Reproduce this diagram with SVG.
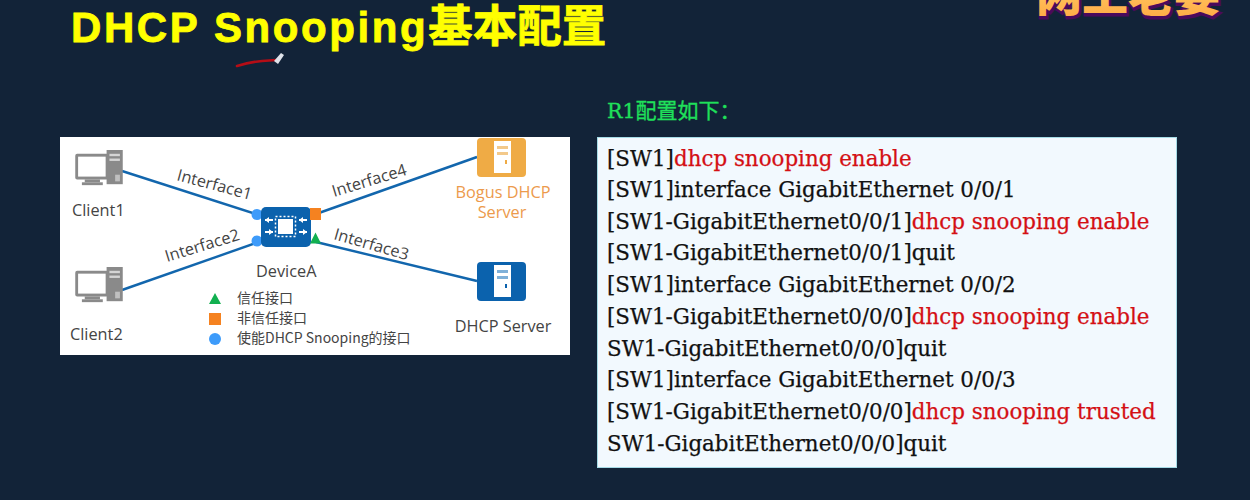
<svg xmlns="http://www.w3.org/2000/svg" width="1250" height="500" viewBox="0 0 1250 500">
<defs>
<linearGradient id="wm" x1="0" y1="0" x2="0" y2="1"><stop offset="0" stop-color="#ffe07a"/><stop offset="1" stop-color="#ffa640"/></linearGradient>
<symbol id="pc" viewBox="0 0 50 40" overflow="visible">
<rect x="33" y="0" width="17" height="36" fill="#8a8a8a"/>
<rect x="36" y="4" width="11" height="2.5" fill="#d5d5d5"/><rect x="36" y="9" width="11" height="2.5" fill="#d5d5d5"/>
<rect x="42" y="26" width="5" height="7" fill="#c0c0c0"/>
<rect x="0" y="4" width="35" height="27" rx="2" fill="#8a8a8a"/>
<rect x="3" y="7" width="29" height="21" fill="#fff"/>
<rect x="10" y="31" width="16" height="3" fill="#8a8a8a"/>
<rect x="7" y="34" width="22" height="3" fill="#8a8a8a"/>
</symbol>
</defs>
<style>
.cfg{font-family:"DejaVu Serif","Liberation Serif",serif;font-size:21.4px;fill:#111;stroke:#111;stroke-width:.25}
.cfg .r{fill:#d40f14;stroke:#d40f14}
.lab{font-family:"Open Sans","Noto Sans","Noto Sans CJK SC",sans-serif;font-size:16.3px;fill:#444}
.leg{font-family:"Noto Sans CJK SC","Noto Sans",sans-serif;font-size:14px;fill:#444}
.link{stroke:#1266ad;stroke-width:2.4;fill:none}
</style>
<rect width="1250" height="500" fill="#122338"/>
<g id="title">
<text x="71" y="42" font-family="Liberation Sans, Noto Sans CJK SC, sans-serif" font-size="42" font-weight="700" fill="#ffff00" stroke="#ffff00" stroke-width="0.8" letter-spacing="2.6">DHCP Snooping<tspan font-family="Noto Sans CJK SC, sans-serif" font-size="44.500" letter-spacing="0">基本配置</tspan></text>
</g>
<g id="watermark">
<text x="1037" y="13" font-family="Noto Sans CJK SC, sans-serif" font-size="46" font-weight="900" fill="#4a0a5c" stroke="#4a0a5c" stroke-width="3">网工老姜</text>
<text x="1036" y="11" font-family="Noto Sans CJK SC, sans-serif" font-size="46" font-weight="900" fill="url(#wm)">网工老姜</text>
</g>
<path id="pen-stroke" d="M237 66 Q250 62 262 61 L276 60" stroke="#b50d16" stroke-width="2.6" fill="none" stroke-linecap="round"/>
<path id="pen-tip" d="M274 61 L281 53 L284 55 L278 64 Z" fill="#dfe3ea"/>
<text id="subhead" x="607" y="118" font-family="DejaVu Serif, Noto Sans CJK SC, serif" font-size="20.500" fill="#1fe05a" stroke="#1fe05a" stroke-width=".3">R1<tspan font-family="Noto Sans CJK SC, serif" font-size="21">配置如下：</tspan></text>

<rect id="diagram-bg" x="60" y="137" width="510" height="218" fill="#fff"/>
<g id="connectors">
<line class="link" x1="122" y1="171" x2="256" y2="214"/>
<line class="link" x1="122" y1="290" x2="256" y2="243"/>
<line class="link" x1="316" y1="214" x2="477" y2="157"/>
<line class="link" x1="316" y1="242" x2="477" y2="281"/>
</g>
<g id="client1"><use href="#pc" x="75" y="150" width="48" height="38"/><text class="lab" x="72" y="216">Client1</text></g>
<g id="client2"><use href="#pc" x="75" y="267" width="48" height="38"/><text class="lab" x="70" y="340">Client2</text></g>
<g id="devicea">
<circle cx="257" cy="214.500" r="5.500" fill="#3d9bfa"/><circle cx="257" cy="241" r="5.500" fill="#3d9bfa"/>
<rect x="261" y="207" width="50" height="40" rx="5" fill="#0b62ad"/>
<rect x="278" y="219" width="15" height="15" fill="#fff"/>
<rect x="275.500" y="216.500" width="20" height="20" fill="none" stroke="#fff" stroke-width="1.500" stroke-dasharray="2 2"/>
<path d="M265 220h8M265 232h8M299 220h8M299 232h8" stroke="#fff" stroke-width="2"/>
<path d="M265 220l4-3v6zM273 232l-4-3v6zM299 220l4-3v6zM307 232l-4-3v6z" fill="#fff"/>
<rect x="310" y="208" width="11" height="12" fill="#f58220"/>
<path d="M310 243.500h11l-5.500-11z" fill="#12b050"/>
<text class="lab" x="256" y="277">DeviceA</text>
</g>
<g id="bogus-server">
<rect x="477" y="138" width="49" height="39" rx="4" fill="#efab45"/>
<rect x="494" y="141" width="17" height="32" fill="#fff"/>
<rect x="497" y="146" width="11" height="3" fill="#f3c98a"/><rect x="497" y="152" width="11" height="3" fill="#f3c98a"/><rect x="505" y="160" width="2" height="4" fill="#efab45"/>
<text class="lab" x="503" y="198" text-anchor="middle" style="fill:#ec9a4c">Bogus DHCP</text>
<text class="lab" x="502" y="218" text-anchor="middle" style="fill:#ec9a4c">Server</text>
</g>
<g id="dhcp-server">
<rect x="477" y="262" width="49" height="39" rx="4" fill="#0b62ad"/>
<rect x="494" y="265" width="17" height="32" fill="#fff"/>
<rect x="497" y="270" width="11" height="3" fill="#7fb0d8"/><rect x="497" y="276" width="11" height="3" fill="#7fb0d8"/><rect x="505" y="284" width="2" height="4" fill="#0b62ad"/>
<text class="lab" x="503" y="332" text-anchor="middle">DHCP Server</text>
</g>
<g id="link-labels">
<text class="lab" transform="translate(176 180) rotate(15)">Interface1</text>
<text class="lab" transform="translate(167 262) rotate(-17)">Interface2</text>
<text class="lab" transform="translate(333 239) rotate(16)">Interface3</text>
<text class="lab" transform="translate(334 197) rotate(-17)">Interface4</text>
</g>
<g id="legend">
<path d="M209 304h12l-6-11z" fill="#12b050"/>
<rect x="209" y="313" width="12" height="12" fill="#f58220"/>
<circle cx="215" cy="339" r="6" fill="#3d9bfa"/>
<text class="leg" x="237" y="303">信任接口</text>
<text class="leg" x="237" y="323">非信任接口</text>
<text class="leg" x="237" y="343">使能DHCP Snooping的接口</text>
</g>
<g id="config">
<rect x="597.500" y="137.500" width="579" height="330" fill="#f2f9fe" stroke="#a5dbe6" stroke-width="1"/>
<text class="cfg" x="607" y="166">[SW1]<tspan class="r">dhcp snooping enable</tspan></text>
<text class="cfg" x="607" y="197">[SW1]interface GigabitEthernet 0/0/1</text>
<text class="cfg" x="607" y="229">[SW1-GigabitEthernet0/0/1]<tspan class="r">dhcp snooping enable</tspan></text>
<text class="cfg" x="607" y="260">[SW1-GigabitEthernet0/0/1]quit</text>
<text class="cfg" x="607" y="292">[SW1]interface GigabitEthernet 0/0/2</text>
<text class="cfg" x="607" y="324">[SW1-GigabitEthernet0/0/0]<tspan class="r">dhcp snooping enable</tspan></text>
<text class="cfg" x="607" y="356">SW1-GigabitEthernet0/0/0]quit</text>
<text class="cfg" x="607" y="387">[SW1]interface GigabitEthernet 0/0/3</text>
<text class="cfg" x="607" y="419">[SW1-GigabitEthernet0/0/0]<tspan class="r">dhcp snooping trusted</tspan></text>
<text class="cfg" x="607" y="451">SW1-GigabitEthernet0/0/0]quit</text>
</g>
</svg>
